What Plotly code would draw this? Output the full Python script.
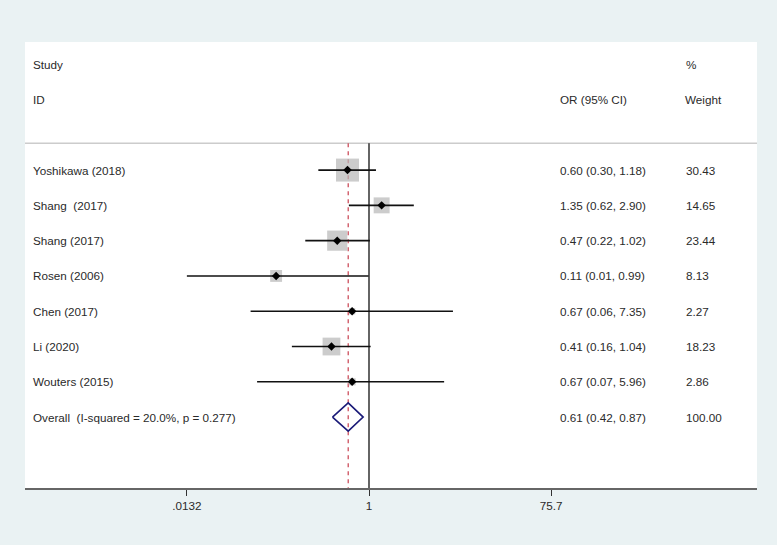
import numpy as np
import plotly.graph_objects as go

studies = ["Yoshikawa (2018)", "Shang\u00a0 (2017)", "Shang (2017)", "Rosen (2006)",
           "Chen (2017)", "Li (2020)", "Wouters (2015)"]
or_est = [0.60, 1.35, 0.47, 0.11, 0.67, 0.41, 0.67]
ci_lo = [0.30, 0.62, 0.22, 0.01, 0.06, 0.16, 0.07]
ci_hi = [1.18, 2.90, 1.02, 0.99, 7.35, 1.04, 5.96]
weights = [30.43, 14.65, 23.44, 8.13, 2.27, 18.23, 2.86]

overall_label = "Overall\u00a0 (I-squared = 20.0%, p = 0.277)"
overall_est, overall_lo, overall_hi, overall_w = 0.61, 0.42, 0.87, 100.00

tick_vals = [0.0132, 1, 75.7]
tick_text = [".0132", "1", "75.7"]

# geometry
W, H = 777, 545
L, R, T, B = 25, 20, 42, 57
pw = W - L - R
xmin_log, xmax_log = -3.55, 4.004
y_top, y_bot = -3.63, 9.01
sep_y = -0.76
BG = "#eaf2f3"

def px(p):
    return (p - 2 - L) / pw

rows = list(range(len(studies)))
ov_row = len(studies)

fig = go.Figure()

clip_lo = min(tick_vals)
xs, ys = [], []
for i in rows:
    xs += [max(ci_lo[i], clip_lo), min(ci_hi[i], max(tick_vals)), None]
    ys += [i, i, None]

# weight boxes
wmax = max(weights)
sizes = [23 * np.sqrt(w / wmax) for w in weights]
fig.add_trace(go.Scatter(x=or_est, y=rows, mode="markers",
                         marker=dict(symbol="square", size=sizes, color="#b6b6b6",
                                     line=dict(width=0)),
                         showlegend=False, hoverinfo="skip"))
# CI lines
fig.add_trace(go.Scatter(x=xs, y=ys, mode="lines",
                         line=dict(color="#111111", width=1.6),
                         hoverinfo="skip", showlegend=False))
# point estimates
fig.add_trace(go.Scatter(x=or_est, y=rows, mode="markers",
                         marker=dict(symbol="diamond", size=6.5, color="#000000"),
                         showlegend=False, hoverinfo="skip"))

# overall diamond
dh = 0.4
fig.add_trace(go.Scatter(
    x=[overall_lo, overall_est, overall_hi, overall_est, overall_lo],
    y=[ov_row, ov_row - dh, ov_row, ov_row + dh, ov_row],
    mode="lines", line=dict(color="#1a1a78", width=1.6),
    showlegend=False, hoverinfo="skip"))

shapes = [
    dict(type="line", xref="paper", yref="y", x0=0, x1=1, y0=sep_y, y1=sep_y,
         line=dict(color="#cccccc", width=1.5), layer="below"),
    dict(type="line", xref="x", yref="y", x0=1, x1=1,
         y0=sep_y, y1=y_bot, line=dict(color="#111111", width=1.3), layer="below"),
    dict(type="line", xref="x", yref="y", x0=overall_est, x1=overall_est,
         y0=sep_y, y1=y_bot, line=dict(color="#c8404f", width=1.2, dash="4px,4px"), layer="below"),
]

font = dict(family="Liberation Sans, Arial, sans-serif", size=11.7, color="#2a2a2a")
ann = []

def add_text(xpix, row, text):
    ann.append(dict(xref="paper", yref="y", x=px(xpix), y=row, text=text,
                    xanchor="left", yanchor="middle", showarrow=False, font=font))

add_text(33, -3, "Study")
add_text(33, -2, "ID")
add_text(560, -2, "OR (95% CI)")
add_text(686, -3, "%")
add_text(685, -2, "Weight")

for i in rows:
    add_text(33, i, studies[i])
    add_text(560, i, f"{or_est[i]:.2f} ({ci_lo[i]:.2f}, {ci_hi[i]:.2f})")
    add_text(686, i, f"{weights[i]:.2f}")
add_text(33, ov_row, overall_label)
add_text(560, ov_row, f"{overall_est:.2f} ({overall_lo:.2f}, {overall_hi:.2f})")
add_text(686, ov_row, f"{overall_w:.2f}")

fig.update_layout(
    width=W, height=H,
    margin=dict(l=L, r=R, t=T, b=B, pad=0),
    paper_bgcolor=BG, plot_bgcolor="#ffffff",
    shapes=shapes, annotations=ann, showlegend=False,
    xaxis=dict(type="log", range=[xmin_log, xmax_log], tickvals=tick_vals, ticktext=tick_text,
               showgrid=False, zeroline=False, showline=True, linecolor="#666666", linewidth=2,
               ticks="outside", ticklen=6, tickcolor="#333333", tickwidth=1,
               tickfont=font, fixedrange=True),
    yaxis=dict(range=[y_bot, y_top], visible=False, showgrid=False, zeroline=False,
               fixedrange=True),
)

fig.write_html("out.html", config={"displayModeBar": False},
               post_script=f"document.body.style.margin='0';document.body.style.background='{BG}';")
